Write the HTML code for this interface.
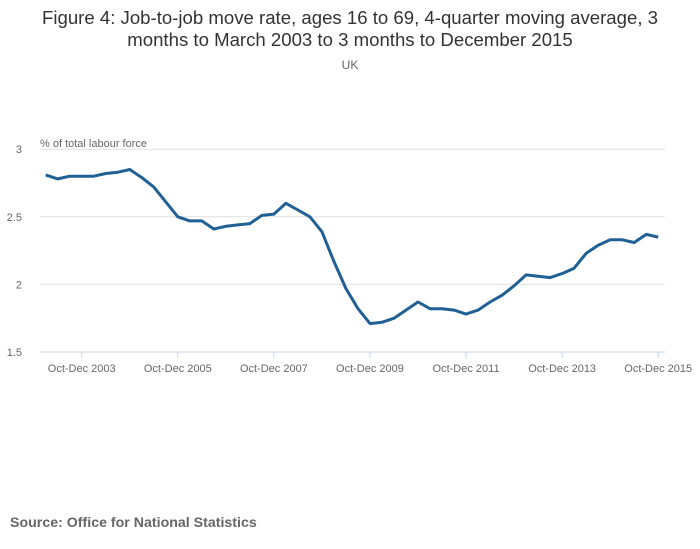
<!DOCTYPE html>
<html><head><meta charset="utf-8"><style>
body{margin:0;background:#fff;font-family:"Liberation Sans",sans-serif;}
#wrap{position:relative;width:700px;height:549px;overflow:hidden;}
</style></head><body>
<div id="wrap">
<svg id="chart" width="700" height="549">
<text x="350" y="24" text-anchor="middle" font-size="18.6" fill="#333">Figure 4: Job-to-job move rate, ages 16 to 69, 4-quarter moving average, 3</text>
<text x="350" y="46" text-anchor="middle" font-size="18.6" fill="#333">months to March 2003 to 3 months to December 2015</text>
<text x="350" y="69" text-anchor="middle" font-size="12" fill="#666">UK</text>
<text x="40" y="147" font-size="11" fill="#666">% of total labour force</text>
<g id="grid"></g><g id="xaxis"></g><g id="series"></g>
<text x="10" y="527" font-size="14.2" font-weight="bold" fill="#666">Source: Office for National Statistics</text>
</svg>
</div>
<script>
const values=[2.81,2.78,2.80,2.80,2.80,2.82,2.83,2.85,2.79,2.72,2.61,2.50,2.47,2.47,2.41,2.43,2.44,2.45,2.51,2.52,2.60,2.55,2.50,2.39,2.17,1.97,1.82,1.71,1.72,1.75,1.81,1.87,1.82,1.82,1.81,1.78,1.81,1.87,1.92,1.99,2.07,2.06,2.05,2.08,2.12,2.23,2.29,2.33,2.33,2.31,2.37,2.35];
const yTicks=[1.5,2,2.5,3];
const yTickLabels=["1.5","2","2.5","3"];
const xTickIndex=[3,11,19,27,35,43,51];
const xTickLabels=["Oct-Dec 2003","Oct-Dec 2005","Oct-Dec 2007","Oct-Dec 2009","Oct-Dec 2011","Oct-Dec 2013","Oct-Dec 2015"];
const NS="http://www.w3.org/2000/svg";
function xs(i){return 45.7+12.01*i;}
function ys(v){return 352-(v-1.5)*135.2;}
function mk(t,a,p){const e=document.createElementNS(NS,t);for(const k in a)e.setAttribute(k,a[k]);p.appendChild(e);return e;}
const grid=document.getElementById('grid'),xa=document.getElementById('xaxis'),ser=document.getElementById('series');
yTicks.forEach((v,k)=>{
  if(v>1.5){const l=mk('line',{x1:40,x2:665,y1:ys(v),y2:ys(v),stroke:'#e0e0e0','stroke-width':1},grid);
  
  }
  const t=mk('text',{x:22,y:ys(v)+4,'text-anchor':'end','font-size':11,fill:'#666'},grid);
  t.textContent=yTickLabels[k];
  
  
});
const ax=mk('line',{x1:40,x2:665,y1:352,y2:352,stroke:'#c6d3e6','stroke-width':1},xa);


xTickIndex.forEach((ix,k)=>{
  const tk=mk('line',{x1:xs(ix),x2:xs(ix),y1:352,y2:358,stroke:'#c6d3e6'},xa);
  
  
  const t=mk('text',{x:xs(ix),y:372,'text-anchor':'middle','font-size':11,fill:'#666'},xa);
  t.textContent=xTickLabels[k];
  
  
});
const d=values.map((v,i)=>(i?'L':'M')+xs(i).toFixed(1)+','+ys(v).toFixed(1)).join('');
const p=mk('path',{d:d,fill:'none',stroke:'#206095','stroke-width':3,'stroke-linejoin':'round'},ser);


</script>
</body></html>
